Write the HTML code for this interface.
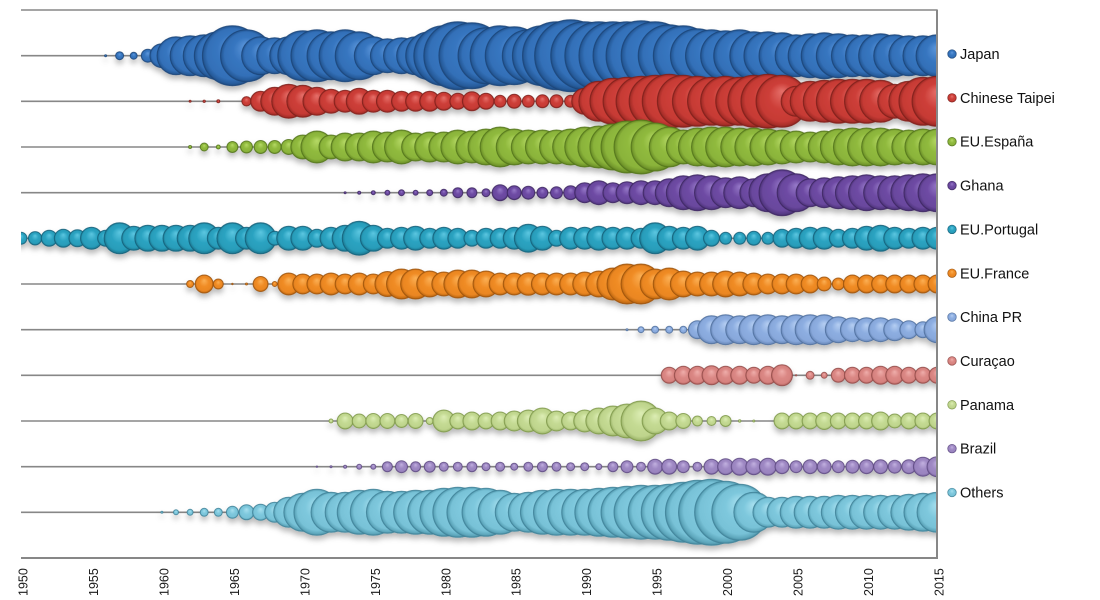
<!DOCTYPE html>
<html><head><meta charset="utf-8"><style>
html,body{margin:0;padding:0;background:#fff;}
svg{display:block;}
text{font-family:"Liberation Sans",Arial,sans-serif;}
</style></head><body>
<svg width="1100" height="600" viewBox="0 0 1100 600" xmlns="http://www.w3.org/2000/svg">
<defs>
<clipPath id="cp"><rect x="21" y="10" width="916" height="548"/></clipPath>
<filter id="sh" x="-5%" y="-40%" width="110%" height="190%"><feDropShadow dx="0" dy="4" stdDeviation="3" flood-color="#000" flood-opacity="0.28"/></filter>
<radialGradient id="g1" cx="0.5" cy="0.5" r="0.5" fx="0.5" fy="0.3"><stop offset="0" stop-color="#5e98dc"/><stop offset="0.5" stop-color="#3776c0"/><stop offset="0.84" stop-color="#3370b8"/><stop offset="0.95" stop-color="#275c9c"/><stop offset="1" stop-color="#1f4a80"/></radialGradient>
<radialGradient id="g2" cx="0.5" cy="0.5" r="0.5" fx="0.5" fy="0.3"><stop offset="0" stop-color="#e6706a"/><stop offset="0.5" stop-color="#cd3f39"/><stop offset="0.84" stop-color="#c63a34"/><stop offset="0.95" stop-color="#a82e29"/><stop offset="1" stop-color="#86221e"/></radialGradient>
<radialGradient id="g3" cx="0.5" cy="0.5" r="0.5" fx="0.5" fy="0.3"><stop offset="0" stop-color="#b6d966"/><stop offset="0.5" stop-color="#90ba3e"/><stop offset="0.84" stop-color="#8ab33a"/><stop offset="0.95" stop-color="#72972c"/><stop offset="1" stop-color="#5b7c20"/></radialGradient>
<radialGradient id="g4" cx="0.5" cy="0.5" r="0.5" fx="0.5" fy="0.3"><stop offset="0" stop-color="#9679c8"/><stop offset="0.5" stop-color="#6e4ba4"/><stop offset="0.84" stop-color="#69479d"/><stop offset="0.95" stop-color="#553984"/><stop offset="1" stop-color="#432c6a"/></radialGradient>
<radialGradient id="g5" cx="0.5" cy="0.5" r="0.5" fx="0.5" fy="0.3"><stop offset="0" stop-color="#5cc6e0"/><stop offset="0.5" stop-color="#2ba3c1"/><stop offset="0.84" stop-color="#289cb9"/><stop offset="0.95" stop-color="#1f819b"/><stop offset="1" stop-color="#18677d"/></radialGradient>
<radialGradient id="g6" cx="0.5" cy="0.5" r="0.5" fx="0.5" fy="0.3"><stop offset="0" stop-color="#fbb055"/><stop offset="0.5" stop-color="#f08c25"/><stop offset="0.84" stop-color="#ea8622"/><stop offset="0.95" stop-color="#c86f15"/><stop offset="1" stop-color="#a8590c"/></radialGradient>
<radialGradient id="g7" cx="0.5" cy="0.5" r="0.5" fx="0.5" fy="0.3"><stop offset="0" stop-color="#b5cef2"/><stop offset="0.5" stop-color="#8daee1"/><stop offset="0.84" stop-color="#88a8db"/><stop offset="0.95" stop-color="#7090c2"/><stop offset="1" stop-color="#5a79a8"/></radialGradient>
<radialGradient id="g8" cx="0.5" cy="0.5" r="0.5" fx="0.5" fy="0.3"><stop offset="0" stop-color="#efaeab"/><stop offset="0.5" stop-color="#db8885"/><stop offset="0.84" stop-color="#d6827f"/><stop offset="0.95" stop-color="#bc6a67"/><stop offset="1" stop-color="#9b524f"/></radialGradient>
<radialGradient id="g9" cx="0.5" cy="0.5" r="0.5" fx="0.5" fy="0.3"><stop offset="0" stop-color="#dcedb4"/><stop offset="0.5" stop-color="#c4da93"/><stop offset="0.84" stop-color="#bed48c"/><stop offset="0.95" stop-color="#a4bc72"/><stop offset="1" stop-color="#88a052"/></radialGradient>
<radialGradient id="g10" cx="0.5" cy="0.5" r="0.5" fx="0.5" fy="0.3"><stop offset="0" stop-color="#c2b1e0"/><stop offset="0.5" stop-color="#9f89c4"/><stop offset="0.84" stop-color="#9a84bf"/><stop offset="0.95" stop-color="#816ba6"/><stop offset="1" stop-color="#67528c"/></radialGradient>
<radialGradient id="g11" cx="0.5" cy="0.5" r="0.5" fx="0.5" fy="0.3"><stop offset="0" stop-color="#a8e0ef"/><stop offset="0.5" stop-color="#7ec8dd"/><stop offset="0.84" stop-color="#78c2d7"/><stop offset="0.95" stop-color="#5ea7bc"/><stop offset="1" stop-color="#468aa0"/></radialGradient>
</defs>

<!-- gridlines -->
<g stroke="#878787" stroke-width="1.6">
<line x1="21" y1="10" x2="937" y2="10"/>
<line x1="21" y1="55.7" x2="937" y2="55.7"/>
<line x1="21" y1="101.3" x2="937" y2="101.3"/>
<line x1="21" y1="147" x2="937" y2="147"/>
<line x1="21" y1="192.7" x2="937" y2="192.7"/>
<line x1="21" y1="238.3" x2="937" y2="238.3"/>
<line x1="21" y1="284" x2="937" y2="284"/>
<line x1="21" y1="329.7" x2="937" y2="329.7"/>
<line x1="21" y1="375.3" x2="937" y2="375.3"/>
<line x1="21" y1="421" x2="937" y2="421"/>
<line x1="21" y1="466.7" x2="937" y2="466.7"/>
<line x1="21" y1="512.3" x2="937" y2="512.3"/>
</g>

<g clip-path="url(#cp)">
<!-- Japan -->
<g transform="translate(0,55.7)" filter="url(#sh)" fill="url(#g1)" stroke="#1c4578" stroke-width="1" stroke-opacity="0.8">
<circle cx="105.6" r="1"/><circle cx="119.6" r="4"/><circle cx="133.7" r="3.5"/><circle cx="147.8" r="6.5"/><circle cx="161.9" r="12"/><circle cx="176" r="19"/><circle cx="190.1" r="20"/><circle cx="204.2" r="21"/><circle cx="218.3" r="24"/><circle cx="232.4" r="30"/><circle cx="246.5" r="26"/><circle cx="260.6" r="19"/><circle cx="274.7" r="18"/><circle cx="288.7" r="19"/><circle cx="302.8" r="25"/><circle cx="316.9" r="26"/><circle cx="331" r="24"/><circle cx="345.1" r="26"/><circle cx="359.2" r="24"/><circle cx="373.3" r="19"/><circle cx="387.4" r="17"/><circle cx="401.5" r="18"/><circle cx="415.6" r="19"/><circle cx="429.7" r="24"/><circle cx="443.8" r="30"/><circle cx="457.8" r="34"/><circle cx="471.9" r="33"/><circle cx="486" r="28"/><circle cx="500.1" r="30"/><circle cx="514.2" r="29"/><circle cx="528.3" r="26"/><circle cx="542.4" r="30"/><circle cx="556.5" r="34"/><circle cx="570.6" r="36"/><circle cx="584.7" r="34"/><circle cx="598.8" r="34"/><circle cx="612.9" r="34"/><circle cx="627" r="34"/><circle cx="641" r="35"/><circle cx="655.1" r="34"/><circle cx="669.2" r="31"/><circle cx="683.3" r="30"/><circle cx="697.4" r="27"/><circle cx="711.5" r="26"/><circle cx="725.6" r="25"/><circle cx="739.7" r="26"/><circle cx="753.8" r="24"/><circle cx="767.9" r="24"/><circle cx="782" r="23"/><circle cx="796.1" r="21"/><circle cx="810.1" r="22"/><circle cx="824.2" r="23"/><circle cx="838.3" r="22"/><circle cx="852.4" r="21"/><circle cx="866.5" r="21"/><circle cx="880.6" r="22"/><circle cx="894.7" r="21"/><circle cx="908.8" r="20"/><circle cx="922.9" r="20"/><circle cx="937" r="21"/>
</g>
<!-- Chinese Taipei -->
<g transform="translate(0,101.3)" filter="url(#sh)" fill="url(#g2)" stroke="#7e201c" stroke-width="1" stroke-opacity="0.8">
<circle cx="190.1" r="1"/><circle cx="204.2" r="1.2"/><circle cx="218.3" r="1.5"/><circle cx="246.5" r="4.7"/><circle cx="260.6" r="10"/><circle cx="274.7" r="14"/><circle cx="288.7" r="17"/><circle cx="302.8" r="16"/><circle cx="316.9" r="14"/><circle cx="331" r="12"/><circle cx="345.1" r="11"/><circle cx="359.2" r="13"/><circle cx="373.3" r="11"/><circle cx="387.4" r="11"/><circle cx="401.5" r="10"/><circle cx="415.6" r="10"/><circle cx="429.7" r="10"/><circle cx="443.8" r="9"/><circle cx="457.8" r="8"/><circle cx="471.9" r="9.5"/><circle cx="486" r="8"/><circle cx="500.1" r="6"/><circle cx="514.2" r="7"/><circle cx="528.3" r="6"/><circle cx="542.4" r="6.5"/><circle cx="556.5" r="6.5"/><circle cx="570.6" r="6"/><circle cx="584.7" r="13"/><circle cx="598.8" r="20"/><circle cx="612.9" r="23"/><circle cx="627" r="24"/><circle cx="641" r="25"/><circle cx="655.1" r="26"/><circle cx="669.2" r="27"/><circle cx="683.3" r="26"/><circle cx="697.4" r="25"/><circle cx="711.5" r="24"/><circle cx="725.6" r="25"/><circle cx="739.7" r="24"/><circle cx="753.8" r="26"/><circle cx="767.9" r="27"/><circle cx="782" r="26"/><circle cx="796.1" r="15"/><circle cx="810.1" r="20"/><circle cx="824.2" r="21"/><circle cx="838.3" r="22"/><circle cx="852.4" r="22"/><circle cx="866.5" r="22"/><circle cx="880.6" r="21"/><circle cx="894.7" r="17"/><circle cx="908.8" r="20"/><circle cx="922.9" r="24"/><circle cx="937" r="25"/>
</g>
<!-- EU.España -->
<g transform="translate(0,147)" filter="url(#sh)" fill="url(#g3)" stroke="#52741b" stroke-width="1" stroke-opacity="0.8">
<circle cx="190.1" r="1.5"/><circle cx="204.2" r="4"/><circle cx="218.3" r="2"/><circle cx="232.4" r="5.5"/><circle cx="246.5" r="6"/><circle cx="260.6" r="6.5"/><circle cx="274.7" r="6.5"/><circle cx="288.7" r="7.5"/><circle cx="302.8" r="12"/><circle cx="316.9" r="16"/><circle cx="331" r="12"/><circle cx="345.1" r="14"/><circle cx="359.2" r="14"/><circle cx="373.3" r="16"/><circle cx="387.4" r="15"/><circle cx="401.5" r="17"/><circle cx="415.6" r="14"/><circle cx="429.7" r="15"/><circle cx="443.8" r="15"/><circle cx="457.8" r="17"/><circle cx="471.9" r="16"/><circle cx="486" r="18"/><circle cx="500.1" r="20"/><circle cx="514.2" r="18"/><circle cx="528.3" r="17"/><circle cx="542.4" r="17"/><circle cx="556.5" r="17"/><circle cx="570.6" r="18"/><circle cx="584.7" r="20"/><circle cx="598.8" r="21"/><circle cx="612.9" r="23"/><circle cx="627" r="26"/><circle cx="641" r="27"/><circle cx="655.1" r="24"/><circle cx="669.2" r="20"/><circle cx="683.3" r="17"/><circle cx="697.4" r="19"/><circle cx="711.5" r="20"/><circle cx="725.6" r="20"/><circle cx="739.7" r="19"/><circle cx="753.8" r="19"/><circle cx="767.9" r="18"/><circle cx="782" r="17"/><circle cx="796.1" r="16"/><circle cx="810.1" r="15"/><circle cx="824.2" r="16"/><circle cx="838.3" r="18"/><circle cx="852.4" r="19"/><circle cx="866.5" r="19"/><circle cx="880.6" r="19"/><circle cx="894.7" r="18"/><circle cx="908.8" r="17"/><circle cx="922.9" r="18"/><circle cx="937" r="18"/>
</g>
<!-- Ghana -->
<g transform="translate(0,192.7)" filter="url(#sh)" fill="url(#g4)" stroke="#3d2762" stroke-width="1" stroke-opacity="0.8">
<circle cx="345.1" r="1"/><circle cx="359.2" r="1.5"/><circle cx="373.3" r="2"/><circle cx="387.4" r="2.5"/><circle cx="401.5" r="3"/><circle cx="415.6" r="2.5"/><circle cx="429.7" r="3"/><circle cx="443.8" r="3.5"/><circle cx="457.8" r="5"/><circle cx="471.9" r="5"/><circle cx="486" r="4"/><circle cx="500.1" r="8"/><circle cx="514.2" r="7"/><circle cx="528.3" r="6.5"/><circle cx="542.4" r="5.5"/><circle cx="556.5" r="6"/><circle cx="570.6" r="7"/><circle cx="584.7" r="10"/><circle cx="598.8" r="12"/><circle cx="612.9" r="10"/><circle cx="627" r="11"/><circle cx="641" r="12"/><circle cx="655.1" r="12"/><circle cx="669.2" r="14"/><circle cx="683.3" r="17"/><circle cx="697.4" r="18"/><circle cx="711.5" r="17"/><circle cx="725.6" r="15"/><circle cx="739.7" r="16"/><circle cx="753.8" r="14"/><circle cx="767.9" r="19"/><circle cx="782" r="23"/><circle cx="796.1" r="19"/><circle cx="810.1" r="14"/><circle cx="824.2" r="15"/><circle cx="838.3" r="16"/><circle cx="852.4" r="17"/><circle cx="866.5" r="18"/><circle cx="880.6" r="17"/><circle cx="894.7" r="17"/><circle cx="908.8" r="18"/><circle cx="922.9" r="19"/><circle cx="937" r="19"/>
</g>
<!-- EU.Portugal -->
<g transform="translate(0,238.3)" filter="url(#sh)" fill="url(#g5)" stroke="#14607a" stroke-width="1" stroke-opacity="0.8">
<circle cx="21" r="6"/><circle cx="35.1" r="6.7"/><circle cx="49.2" r="8"/><circle cx="63.3" r="9"/><circle cx="77.4" r="8.5"/><circle cx="91.5" r="11"/><circle cx="105.6" r="8"/><circle cx="119.6" r="15.5"/><circle cx="133.7" r="12"/><circle cx="147.8" r="13"/><circle cx="161.9" r="13"/><circle cx="176" r="13"/><circle cx="190.1" r="13"/><circle cx="204.2" r="15.5"/><circle cx="218.3" r="11"/><circle cx="232.4" r="15.5"/><circle cx="246.5" r="11"/><circle cx="260.6" r="15.5"/><circle cx="274.7" r="7"/><circle cx="288.7" r="12"/><circle cx="302.8" r="12"/><circle cx="316.9" r="9"/><circle cx="331" r="11"/><circle cx="345.1" r="13"/><circle cx="359.2" r="17"/><circle cx="373.3" r="13"/><circle cx="387.4" r="10"/><circle cx="401.5" r="11"/><circle cx="415.6" r="12"/><circle cx="429.7" r="10"/><circle cx="443.8" r="11"/><circle cx="457.8" r="10"/><circle cx="471.9" r="8"/><circle cx="486" r="10"/><circle cx="500.1" r="10"/><circle cx="514.2" r="11"/><circle cx="528.3" r="14"/><circle cx="542.4" r="12"/><circle cx="556.5" r="8"/><circle cx="570.6" r="11"/><circle cx="584.7" r="11"/><circle cx="598.8" r="12"/><circle cx="612.9" r="11"/><circle cx="627" r="11"/><circle cx="641" r="10"/><circle cx="655.1" r="15.5"/><circle cx="669.2" r="12"/><circle cx="683.3" r="11"/><circle cx="697.4" r="12"/><circle cx="711.5" r="8"/><circle cx="725.6" r="6"/><circle cx="739.7" r="6"/><circle cx="753.8" r="7"/><circle cx="767.9" r="6"/><circle cx="782" r="9"/><circle cx="796.1" r="10"/><circle cx="810.1" r="11"/><circle cx="824.2" r="11"/><circle cx="838.3" r="9"/><circle cx="852.4" r="10"/><circle cx="866.5" r="12"/><circle cx="880.6" r="13"/><circle cx="894.7" r="11"/><circle cx="908.8" r="10"/><circle cx="922.9" r="11"/><circle cx="937" r="11"/>
</g>
<!-- EU.France -->
<g transform="translate(0,284)" filter="url(#sh)" fill="url(#g6)" stroke="#9c520a" stroke-width="1" stroke-opacity="0.8">
<circle cx="190.1" r="3.5"/><circle cx="204.2" r="9"/><circle cx="218.3" r="5"/><circle cx="232.4" r="0.7"/><circle cx="246.5" r="1"/><circle cx="260.6" r="7.5"/><circle cx="274.7" r="2.5"/><circle cx="288.7" r="11"/><circle cx="302.8" r="10"/><circle cx="316.9" r="10"/><circle cx="331" r="11"/><circle cx="345.1" r="10"/><circle cx="359.2" r="11"/><circle cx="373.3" r="10"/><circle cx="387.4" r="12.5"/><circle cx="401.5" r="15"/><circle cx="415.6" r="15"/><circle cx="429.7" r="13"/><circle cx="443.8" r="12"/><circle cx="457.8" r="14"/><circle cx="471.9" r="14"/><circle cx="486" r="13"/><circle cx="500.1" r="11"/><circle cx="514.2" r="11"/><circle cx="528.3" r="11.3"/><circle cx="542.4" r="11"/><circle cx="556.5" r="11"/><circle cx="570.6" r="11"/><circle cx="584.7" r="12"/><circle cx="598.8" r="13"/><circle cx="612.9" r="16"/><circle cx="627" r="20"/><circle cx="641" r="20"/><circle cx="655.1" r="15"/><circle cx="669.2" r="16"/><circle cx="683.3" r="13"/><circle cx="697.4" r="12"/><circle cx="711.5" r="12"/><circle cx="725.6" r="13"/><circle cx="739.7" r="12"/><circle cx="753.8" r="11"/><circle cx="767.9" r="10"/><circle cx="782" r="10"/><circle cx="796.1" r="10"/><circle cx="810.1" r="9"/><circle cx="824.2" r="7"/><circle cx="838.3" r="6"/><circle cx="852.4" r="9"/><circle cx="866.5" r="9"/><circle cx="880.6" r="9"/><circle cx="894.7" r="9"/><circle cx="908.8" r="9"/><circle cx="922.9" r="9"/><circle cx="937" r="9"/>
</g>
<!-- China PR -->
<g transform="translate(0,329.7)" filter="url(#sh)" fill="url(#g7)" stroke="#4f6f9e" stroke-width="1" stroke-opacity="0.8">
<circle cx="627" r="1"/><circle cx="641" r="3"/><circle cx="655.1" r="3.5"/><circle cx="669.2" r="3.5"/><circle cx="683.3" r="3.5"/><circle cx="697.4" r="9"/><circle cx="711.5" r="14"/><circle cx="725.6" r="15"/><circle cx="739.7" r="14"/><circle cx="753.8" r="15"/><circle cx="767.9" r="15"/><circle cx="782" r="14"/><circle cx="796.1" r="15"/><circle cx="810.1" r="15"/><circle cx="824.2" r="15"/><circle cx="838.3" r="13"/><circle cx="852.4" r="12"/><circle cx="866.5" r="12"/><circle cx="880.6" r="12"/><circle cx="894.7" r="11"/><circle cx="908.8" r="9"/><circle cx="922.9" r="8"/><circle cx="937" r="13"/>
</g>
<!-- Curaçao -->
<g transform="translate(0,375.3)" filter="url(#sh)" fill="url(#g8)" stroke="#924b48" stroke-width="1" stroke-opacity="0.8">
<circle cx="669.2" r="8"/><circle cx="683.3" r="9"/><circle cx="697.4" r="9"/><circle cx="711.5" r="9.5"/><circle cx="725.6" r="9"/><circle cx="739.7" r="9"/><circle cx="753.8" r="8"/><circle cx="767.9" r="9"/><circle cx="782" r="10.5"/><circle cx="796.1" r="0.7"/><circle cx="810.1" r="4"/><circle cx="824.2" r="3"/><circle cx="838.3" r="7"/><circle cx="852.4" r="8"/><circle cx="866.5" r="8"/><circle cx="880.6" r="9"/><circle cx="894.7" r="9"/><circle cx="908.8" r="8"/><circle cx="922.9" r="8"/><circle cx="937" r="8"/>
</g>
<!-- Panama -->
<g transform="translate(0,421)" filter="url(#sh)" fill="url(#g9)" stroke="#7e984a" stroke-width="1" stroke-opacity="0.8">
<circle cx="331" r="2"/><circle cx="345.1" r="8"/><circle cx="359.2" r="7"/><circle cx="373.3" r="7.5"/><circle cx="387.4" r="7.5"/><circle cx="401.5" r="6.5"/><circle cx="415.6" r="7.5"/><circle cx="429.7" r="3.5"/><circle cx="443.8" r="11"/><circle cx="457.8" r="8"/><circle cx="471.9" r="9"/><circle cx="486" r="8"/><circle cx="500.1" r="9"/><circle cx="514.2" r="10"/><circle cx="528.3" r="11"/><circle cx="542.4" r="13"/><circle cx="556.5" r="10"/><circle cx="570.6" r="9"/><circle cx="584.7" r="11"/><circle cx="598.8" r="13"/><circle cx="612.9" r="15"/><circle cx="627" r="17"/><circle cx="641" r="20"/><circle cx="655.1" r="13"/><circle cx="669.2" r="9"/><circle cx="683.3" r="7.5"/><circle cx="697.4" r="5"/><circle cx="711.5" r="4.5"/><circle cx="725.6" r="5.5"/><circle cx="739.7" r="1.2"/><circle cx="753.8" r="1"/><circle cx="782" r="8"/><circle cx="796.1" r="8"/><circle cx="810.1" r="8"/><circle cx="824.2" r="8.5"/><circle cx="838.3" r="8"/><circle cx="852.4" r="8"/><circle cx="866.5" r="8"/><circle cx="880.6" r="9"/><circle cx="894.7" r="7"/><circle cx="908.8" r="8"/><circle cx="922.9" r="8"/><circle cx="937" r="8"/>
</g>
<!-- Brazil -->
<g transform="translate(0,466.7)" filter="url(#sh)" fill="url(#g10)" stroke="#5e4a82" stroke-width="1" stroke-opacity="0.8">
<circle cx="316.9" r="0.7"/><circle cx="331" r="1"/><circle cx="345.1" r="1.5"/><circle cx="359.2" r="2.5"/><circle cx="373.3" r="2.5"/><circle cx="387.4" r="5"/><circle cx="401.5" r="6"/><circle cx="415.6" r="5"/><circle cx="429.7" r="5.5"/><circle cx="443.8" r="4.5"/><circle cx="457.8" r="4.5"/><circle cx="471.9" r="5"/><circle cx="486" r="4"/><circle cx="500.1" r="4.5"/><circle cx="514.2" r="3.5"/><circle cx="528.3" r="4.5"/><circle cx="542.4" r="5"/><circle cx="556.5" r="4.5"/><circle cx="570.6" r="4"/><circle cx="584.7" r="4"/><circle cx="598.8" r="3"/><circle cx="612.9" r="5"/><circle cx="627" r="6"/><circle cx="641" r="4.5"/><circle cx="655.1" r="7.5"/><circle cx="669.2" r="7.5"/><circle cx="683.3" r="6"/><circle cx="697.4" r="4.5"/><circle cx="711.5" r="7.5"/><circle cx="725.6" r="8"/><circle cx="739.7" r="8.5"/><circle cx="753.8" r="8"/><circle cx="767.9" r="8.5"/><circle cx="782" r="7"/><circle cx="796.1" r="6"/><circle cx="810.1" r="7"/><circle cx="824.2" r="7"/><circle cx="838.3" r="6"/><circle cx="852.4" r="6.5"/><circle cx="866.5" r="7"/><circle cx="880.6" r="7"/><circle cx="894.7" r="6.5"/><circle cx="908.8" r="7"/><circle cx="922.9" r="9.5"/><circle cx="937" r="10"/>
</g>
<!-- Others -->
<g transform="translate(0,512.3)" filter="url(#sh)" fill="url(#g11)" stroke="#3f8197" stroke-width="1" stroke-opacity="0.8">
<circle cx="161.9" r="1"/><circle cx="176" r="2.5"/><circle cx="190.1" r="3"/><circle cx="204.2" r="4"/><circle cx="218.3" r="4"/><circle cx="232.4" r="6"/><circle cx="246.5" r="7.5"/><circle cx="260.6" r="8"/><circle cx="274.7" r="10"/><circle cx="288.7" r="15"/><circle cx="302.8" r="19"/><circle cx="316.9" r="23"/><circle cx="331" r="20"/><circle cx="345.1" r="20"/><circle cx="359.2" r="22"/><circle cx="373.3" r="23"/><circle cx="387.4" r="21"/><circle cx="401.5" r="21"/><circle cx="415.6" r="22"/><circle cx="429.7" r="22"/><circle cx="443.8" r="24"/><circle cx="457.8" r="25"/><circle cx="471.9" r="25"/><circle cx="486" r="24"/><circle cx="500.1" r="22"/><circle cx="514.2" r="19"/><circle cx="528.3" r="20"/><circle cx="542.4" r="22"/><circle cx="556.5" r="23"/><circle cx="570.6" r="23"/><circle cx="584.7" r="23"/><circle cx="598.8" r="24"/><circle cx="612.9" r="25"/><circle cx="627" r="26"/><circle cx="641" r="27"/><circle cx="655.1" r="27"/><circle cx="669.2" r="28"/><circle cx="683.3" r="30"/><circle cx="697.4" r="32"/><circle cx="711.5" r="33"/><circle cx="725.6" r="31"/><circle cx="739.7" r="28"/><circle cx="753.8" r="20"/><circle cx="767.9" r="15"/><circle cx="782" r="15"/><circle cx="796.1" r="16"/><circle cx="810.1" r="16"/><circle cx="824.2" r="16"/><circle cx="838.3" r="17"/><circle cx="852.4" r="17"/><circle cx="866.5" r="17"/><circle cx="880.6" r="17"/><circle cx="894.7" r="17"/><circle cx="908.8" r="18"/><circle cx="922.9" r="19"/><circle cx="937" r="20"/>
</g>
</g>

<!-- axes -->
<line x1="21" y1="558" x2="938" y2="558" stroke="#878787" stroke-width="2"/>
<line x1="937" y1="9.5" x2="937" y2="559" stroke="#878787" stroke-width="2"/>

<!-- x tick labels -->
<g font-size="12.5" fill="#1a1a1a">
<text transform="translate(27.5,596) rotate(-90)">1950</text>
<text transform="translate(98,596) rotate(-90)">1955</text>
<text transform="translate(168.4,596) rotate(-90)">1960</text>
<text transform="translate(238.9,596) rotate(-90)">1965</text>
<text transform="translate(309.3,596) rotate(-90)">1970</text>
<text transform="translate(379.8,596) rotate(-90)">1975</text>
<text transform="translate(450.3,596) rotate(-90)">1980</text>
<text transform="translate(520.7,596) rotate(-90)">1985</text>
<text transform="translate(591.2,596) rotate(-90)">1990</text>
<text transform="translate(661.6,596) rotate(-90)">1995</text>
<text transform="translate(732.1,596) rotate(-90)">2000</text>
<text transform="translate(802.6,596) rotate(-90)">2005</text>
<text transform="translate(873,596) rotate(-90)">2010</text>
<text transform="translate(943.5,596) rotate(-90)">2015</text>
</g>

<!-- legend -->
<g stroke-width="0.7" stroke-opacity="0.85">
<circle cx="952" cy="54" r="4.3" fill="url(#g1)" stroke="#1c4578"/>
<circle cx="952" cy="97.85" r="4.3" fill="url(#g2)" stroke="#7e201c"/>
<circle cx="952" cy="141.7" r="4.3" fill="url(#g3)" stroke="#52741b"/>
<circle cx="952" cy="185.55" r="4.3" fill="url(#g4)" stroke="#3d2762"/>
<circle cx="952" cy="229.4" r="4.3" fill="url(#g5)" stroke="#14607a"/>
<circle cx="952" cy="273.25" r="4.3" fill="url(#g6)" stroke="#9c520a"/>
<circle cx="952" cy="317.1" r="4.3" fill="url(#g7)" stroke="#4f6f9e"/>
<circle cx="952" cy="360.95" r="4.3" fill="url(#g8)" stroke="#924b48"/>
<circle cx="952" cy="404.8" r="4.3" fill="url(#g9)" stroke="#7e984a"/>
<circle cx="952" cy="448.65" r="4.3" fill="url(#g10)" stroke="#5e4a82"/>
<circle cx="952" cy="492.5" r="4.3" fill="url(#g11)" stroke="#3f8197"/>
</g>
<g font-size="14.5" fill="#111">
<text x="960" y="59">Japan</text>
<text x="960" y="102.85">Chinese Taipei</text>
<text x="960" y="146.7">EU.España</text>
<text x="960" y="190.55">Ghana</text>
<text x="960" y="234.4">EU.Portugal</text>
<text x="960" y="278.25">EU.France</text>
<text x="960" y="322.1">China PR</text>
<text x="960" y="365.95">Curaçao</text>
<text x="960" y="409.8">Panama</text>
<text x="960" y="453.65">Brazil</text>
<text x="960" y="497.5">Others</text>
</g>
</svg>
</body></html>
